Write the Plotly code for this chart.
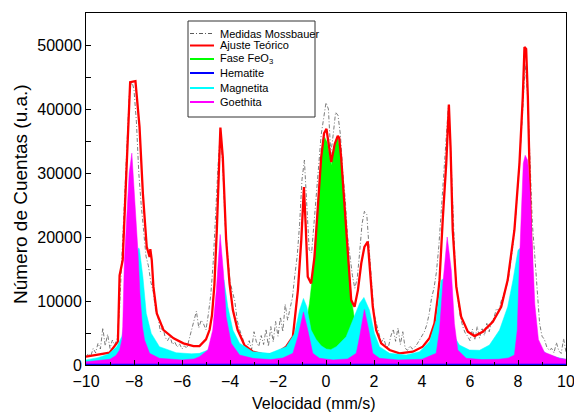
import numpy as np
import plotly.graph_objects as go

# Mössbauer spectrum: measured counts on evenly spaced velocity channels (-10 .. 10 mm/s)
MEAS = [
    1200, 1800, 1400, 2600, 1900, 3400, 2500, 5800, 3000, 4800,
    2600, 3900, 3100, 4200, 9000, 17000, 25000, 34000, 42000, 44500,
    43000, 38000, 30000, 25000, 20500, 17000, 15500, 13000, 11500, 8500,
    7500, 5200, 6000, 4300, 3800, 4500, 3200, 3600, 2800, 3300,
    2500, 3000, 2600, 4000, 5500, 7000, 8400, 5800, 7000, 6400,
    5500, 8000, 11000, 16000, 24000, 31000, 36500, 31000, 22000, 17000,
    13000, 11500, 10000, 7000, 5500, 4500, 3200, 2600, 3800, 2400,
    5200, 3600, 2900, 4600, 3200, 5600, 2900, 6000, 3600, 6800,
    4500, 7500, 5200, 9500, 7000, 8800, 10500, 14000, 17000, 22000,
    29000, 32000, 24000, 18000, 17500, 22500, 27000, 31500, 36000, 38500,
    41000, 40000, 33000, 36000, 39500, 39000, 36000, 30000, 26000, 20000,
    17000, 14000, 12000, 13500, 17500, 22000, 24000, 23500, 18000, 12500,
    8000, 6500, 5000, 3500, 4200, 3000, 2800, 4500, 5600, 3700,
    5800, 3200, 5200, 2600, 2300, 3000, 2500, 2800, 3300, 3900,
    4400, 5200, 6300, 8000, 10500, 12000, 14500, 18500, 24000, 30000,
    36000, 40500, 33000, 22000, 14000, 10000, 7500, 6000, 5000, 4500,
    3800, 5600, 3900, 6000, 4200, 5800, 4600, 6500, 5200, 6800,
    7400, 8800, 8500, 10000, 11000, 12000, 13500, 16000, 19000, 23000,
    28000, 34000, 40000, 47000, 42000, 31000, 22000, 17000, 11000, 6500,
    4500, 4000, 2800, 2300, 2600, 1900, 3500, 2200, 1800, 4100,
    2000,
]
MEAS_V = np.linspace(-10, 10, len(MEAS))

# Total fitted spectrum (Ajuste Teórico)
FIT_V = [-10.0, -9.5, -9.02, -8.67, -8.6, -8.47, -8.16, -7.94, -7.77, -7.63,
         -7.47, -7.35, -7.32, -7.26, -7.19, -7.05, -6.77, -6.35, -5.94, -5.52,
         -5.27, -5.0, -4.85, -4.75, -4.65, -4.55, -4.47, -4.40, -4.30, -4.16,
         -4.02, -3.88, -3.68, -3.40, -3.05, -2.49, -2.08, -1.66, -1.38, -1.17,
         -1.03, -0.92, -0.85, -0.76, -0.62, -0.48, -0.34, -0.20, -0.08, 0.02,
         0.22, 0.36, 0.49, 0.55, 0.63, 0.77, 0.91, 1.05, 1.19, 1.33,
         1.47, 1.60, 1.74, 1.81, 1.95, 2.09, 2.30, 2.65, 3.06, 3.62,
         4.03, 4.31, 4.52, 4.66, 4.73, 4.87, 5.01, 5.12, 5.19, 5.28,
         5.43, 5.63, 5.91, 6.19, 6.53, 6.95, 7.30, 7.57, 7.85, 8.06,
         8.20, 8.27, 8.34, 8.41, 8.46, 8.50, 8.55, 8.60, 8.70, 8.80,
         9.0, 9.5, 10.0]
FIT_Y = [1300, 1600, 1920, 3640, 14000, 16400, 44200, 44350, 37200, 26800,
         18450, 16900, 18100, 16400, 12200, 8070, 5460, 4170, 3390, 2960,
         2960, 4000, 5500, 7800, 12500, 21000, 31000, 37100, 32500, 19500,
         12750, 8580, 5460, 3120, 2080, 1560, 1820, 2860, 4420, 11700,
         19500, 27800, 22100, 13800, 12750, 16900, 24700, 32500, 36200, 36900,
         31700, 34500, 35800, 35500, 32500, 24700, 16900, 10140, 9100, 11700,
         15900, 18450, 19300, 15900, 9100, 5460, 3390, 2340, 1820, 2080,
         2860, 4170, 6500, 10650, 13260, 23100, 31500, 40700, 34000, 21100,
         12200, 7540, 5200, 4520, 5200, 6760, 9100, 13260, 21060, 31470,
         41900, 49700, 49400, 42000, 33000, 25000, 17000, 11000, 5000, 2500,
         1500, 900, 700]

# FeO3 doublet
FEO3_V = [-2.5, -2.0, -1.5, -1.2, -1.0, -0.85, -0.69, -0.55, -0.41, -0.27,
          -0.15, -0.06, 0.05, 0.22, 0.38, 0.49, 0.63, 0.77, 0.91, 1.05,
          1.2, 1.4, 1.7, 2.2, 3.0]
FEO3_Y = [600, 900, 1600, 2600, 3800, 6000, 9600, 14300, 21500, 29000,
          34000, 35600, 34800, 31200, 34800, 35600, 32500, 24700, 16900, 10600,
          6800, 4200, 2500, 1300, 700]

# Hematite component (flat)
HEM_V = [-10.0, 10.0]
HEM_Y = [0, 0]

# Magnetite sextet
MAG_V = [-10.0, -9.5, -9.06, -8.72, -8.5, -8.3, -8.1, -7.95, -7.8, -7.77,
         -7.63, -7.49, -7.28, -6.94, -6.24, -5.6, -5.27, -4.92, -4.7, -4.5,
         -4.35, -4.25, -4.09, -3.88, -3.60, -3.05, -2.35, -1.66, -1.31, -1.10,
         -0.94, -0.80, -0.62, -0.41, -0.2, 0.01, 0.2, 0.43, 0.84, 1.12,
         1.40, 1.58, 1.81, 2.02, 2.23, 2.65, 3.34, 3.90, 4.31, 4.59,
         4.80, 4.92, 5.05, 5.2, 5.35, 5.56, 5.98, 6.40, 6.81, 7.23,
         7.57, 7.79, 8.0, 8.15, 8.3, 8.5, 8.7, 8.9, 9.2, 9.6,
         10.0]
MAG_Y = [800, 1150, 1720, 2860, 4500, 8000, 13000, 17000, 18300, 18000,
         13800, 8070, 4940, 2860, 1920, 1750, 1820, 2340, 4000, 8000,
         12500, 13300, 9100, 5460, 3390, 2080, 1820, 2860, 4940, 8580,
         10400, 9100, 5460, 4000, 3000, 2500, 2400, 2860, 4420, 7020,
         9630, 10560, 8580, 4940, 2860, 1820, 1560, 2080, 3640, 7020,
         13260, 13500, 11000, 7000, 4420, 3120, 2340, 2300, 3120, 5460,
         9100, 13260, 17940, 18500, 14000, 8000, 4500, 2700, 1700, 1200,
         900]

# Goethite sextet
GOE_V = [-10.0, -9.5, -9.0, -8.75, -8.6, -8.5, -8.47, -8.40, -8.3, -8.2,
         -8.09, -7.98, -7.84, -7.75, -7.65, -7.56, -7.35, -6.94, -6.0, -5.5,
         -5.27, -4.92, -4.72, -4.57, -4.41, -4.27, -4.16, -3.95, -3.60, -3.05,
         -2.3, -1.8, -1.38, -1.17, -0.94, -0.76, -0.55, -0.27, 0.3, 0.9,
         1.26, 1.40, 1.60, 1.78, 1.95, 2.23, 3.0, 4.0, 4.59, 4.73,
         4.87, 5.05, 5.22, 5.35, 5.49, 5.84, 6.5, 7.2, 7.6, 7.85,
         7.97, 8.06, 8.15, 8.22, 8.30, 8.40, 8.50, 8.60, 8.70, 8.85,
         9.1, 9.73, 10.0]
GOE_Y = [500, 650, 900, 1500, 2340, 4000, 6000, 16400, 24000, 30000,
         33100, 26800, 18000, 11000, 6000, 3900, 1820, 1040, 800, 950,
         1300, 2340, 5460, 11700, 20400, 14300, 7540, 3390, 1560, 1040,
         850, 1100, 1820, 4400, 8300, 5460, 1820, 1040, 800, 950,
         1820, 4400, 8690, 5460, 1820, 1040, 800, 900, 1820, 5460,
         12700, 20000, 14800, 6500, 2340, 1040, 850, 900, 1100, 1560,
         5460, 16000, 25000, 31500, 32760, 32000, 27000, 17000, 9500, 4000,
         2000, 1040, 900]

X_TICKS = [-10, -8, -6, -4, -2, 0, 2, 4, 6, 8, 10]
Y_TICKS = [0, 10000, 20000, 30000, 40000, 50000]

RED = "#ff0000"
GREEN = "#00ff00"
BLUE = "#0000ff"
CYAN = "#00ffff"
MAGENTA = "#ff00ff"
GRAY = "#5a5a5a"
FONT = "Liberation Sans, Arial, Helvetica, sans-serif"
DASHDOT = "4px,2px,1px,2px"

fig = go.Figure()

fig.add_trace(go.Scatter(x=MEAS_V, y=MEAS, mode="lines", name="Medidas Mossbauer",
                         line=dict(color=GRAY, width=0.8, dash=DASHDOT)))
fig.add_trace(go.Scatter(x=FEO3_V, y=FEO3_Y, mode="lines", name="Fase FeO3",
                         fill="tozeroy", fillcolor=GREEN, line=dict(color=GREEN, width=0.5)))
fig.add_trace(go.Scatter(x=FIT_V, y=FIT_Y, mode="lines", name="Ajuste Teórico",
                         line=dict(color=RED, width=2.3)))
fig.add_trace(go.Scatter(x=MAG_V, y=MAG_Y, mode="lines", name="Magnetita",
                         fill="tozeroy", fillcolor=CYAN, line=dict(color=CYAN, width=0.5)))
fig.add_trace(go.Scatter(x=GOE_V, y=GOE_Y, mode="lines", name="Goethita",
                         fill="tozeroy", fillcolor=MAGENTA, line=dict(color=MAGENTA, width=0.5)))
fig.add_trace(go.Scatter(x=HEM_V, y=HEM_Y, mode="lines", name="Hematite",
                         line=dict(color=BLUE, width=2.5)))

# Plot-area pixel frame used for the hand-drawn legend box
L, R, T, B = 86, 566, 13, 365


def px(xp):
    return (xp - L) / (R - L)


def py(yp):
    return (B - yp) / (B - T)


shapes = [dict(type="rect", xref="paper", yref="paper",
               x0=px(188), x1=px(315), y0=py(117), y1=py(21),
               line=dict(color="#333333", width=1), fillcolor="white", layer="above")]
legend_rows = [
    ("Medidas Mossbauer", GRAY, 1, DASHDOT, 33.5),
    ("Ajuste Teórico", RED, 2, "solid", 45.5),
    ("Fase FeO<sub>3</sub>", GREEN, 2, "solid", 59),
    ("Hematite", BLUE, 2, "solid", 73),
    ("Magnetita", CYAN, 2, "solid", 88),
    ("Goethita", MAGENTA, 2, "solid", 102),
]
annotations = []
for label, color, width, dash, yrow in legend_rows:
    shapes.append(dict(type="line", xref="paper", yref="paper",
                       x0=px(190), x1=px(214), y0=py(yrow), y1=py(yrow),
                       line=dict(color=color, width=width, dash=dash), layer="above"))
    annotations.append(dict(xref="paper", yref="paper", x=px(218), y=py(yrow),
                            text=label, showarrow=False, xanchor="left", yanchor="middle",
                            font=dict(family=FONT, size=11, color="black")))

annotations.append(dict(xref="paper", yref="paper", x=px(314), y=py(403),
                        text="Velocidad (mm/s)", showarrow=False,
                        xanchor="center", yanchor="middle",
                        font=dict(family=FONT, size=16, color="black")))
annotations.append(dict(xref="paper", yref="paper", x=px(20), y=py(194),
                        text="Número de Cuentas (u.a.)", showarrow=False, textangle=-90,
                        xanchor="center", yanchor="middle",
                        font=dict(family=FONT, size=19, color="black")))

axis_common = dict(showgrid=False, zeroline=False, showline=True, linecolor="black",
                   linewidth=1, mirror=True, ticks="inside", tickcolor="black",
                   ticklen=5, tickwidth=1, ticklabeloverflow="allow", automargin=False,
                   tickfont=dict(family=FONT, size=16, color="black"))

fig.update_layout(
    width=574, height=414,
    margin=dict(l=L, r=574 - R, t=T, b=414 - B),
    paper_bgcolor="white", plot_bgcolor="white",
    showlegend=False,
    xaxis=dict(range=[-10, 10], tickmode="array", tickvals=X_TICKS,
               ticktext=[f"{v:g}".replace("-", "\u2212") for v in X_TICKS],
               ticklabelstandoff=2,
               minor=dict(dtick=1, ticks="inside", ticklen=3, tickcolor="black"),
               **axis_common),
    yaxis=dict(range=[0, 55000], tickmode="array", tickvals=Y_TICKS,
               ticktext=[str(v) for v in Y_TICKS],
               minor=dict(dtick=5000, ticks="inside", ticklen=5, tickcolor="black"),
               **axis_common),
    shapes=shapes,
    annotations=annotations,
)

fig.write_html("out.html")
